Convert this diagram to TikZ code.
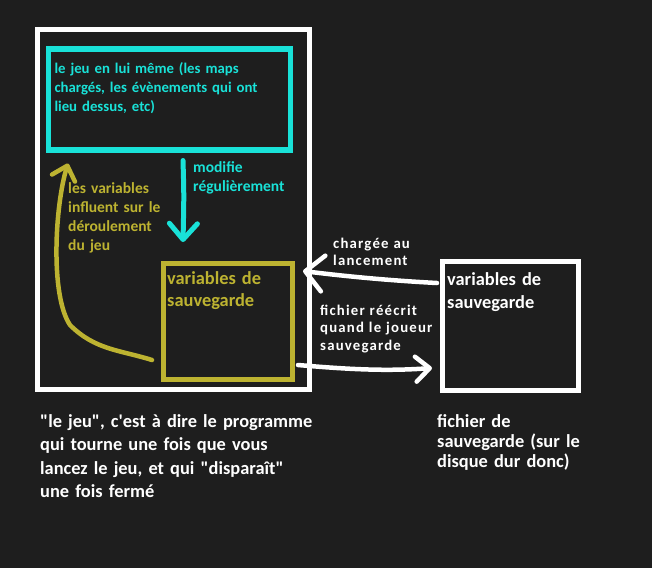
\documentclass[tikz,border=0pt]{standalone}
\usepackage{fontspec}
\setmainfont{Carlito}[Ligatures=TeXOff]
\newfontfamily\lblfont{Carlito}[LetterSpace=8]
\usetikzlibrary{arrows.meta,calc}
\definecolor{bg}{HTML}{1E1E1E}
\definecolor{cy}{HTML}{19E2D8}
\definecolor{ol}{HTML}{BDB331}
\begin{document}
\begin{tikzpicture}[x=1pt,y=-1pt,
  box/.style={draw=#1, line width=5pt, anchor=north west, inner sep=0pt},
  txt/.style={anchor=base west, inner sep=0pt, align=left, text width=320pt, font=\bfseries},
  small/.style={font=\bfseries\fontsize{15.5}{19}\selectfont},
  big/.style={font=\bfseries\fontsize{18.4}{#1}\selectfont},
  lbl/.style={text=white, font=\lblfont\bfseries\fontsize{14.8}{17.5}\selectfont},
  hand/.style={line width=4.5pt, line cap=round, line join=round},
  tipA/.style 2 args={-{Straight Barb[length=#1, width=#2, line cap=round, line join=round]}}
]
\fill[bg] (0,0) rectangle (652,568);
\useasboundingbox (0,0) rectangle (652,568);

% boxes
\node[box=white, minimum width=272.5pt, minimum height=360.5pt] (prog) at (34.5,26.5) {};
\node[box=cy, minimum width=242pt, minimum height=101pt, line width=5.5pt] (game) at (45.5,46) {};
\node[box=ol, minimum width=129pt, minimum height=116.5pt] (vars) at (160.5,260.5) {};
\node[box=white, minimum width=135.5pt, minimum height=128.5pt] (file) at (440,259) {};

% texts
\node[txt, text=cy, font=\bfseries\fontsize{14.8}{19}\selectfont] (tgame) at (54.3,73.3)
  {le jeu en lui même (les maps\\chargés, les évènements qui ont\\lieu dessus, etc)};
\node[txt, small, text=cy] (tmod) at (193,172)
  {modifie\\régulièrement};
\node[txt, small, text=ol] (tinf) at (68,193)
  {les variables\\influent sur le\\déroulement\\du jeu};
\node[txt, big=22.5, text=ol] (tvars) at (167,284)
  {variables de\\sauvegarde};
\node[txt, big=23, text=white] (tfile) at (447,285)
  {variables de\\sauvegarde};
\node[txt, lbl] (tload) at (333,248)
  {chargée au\\lancement};
\node[txt, lbl] (tsave) at (320,315)
  {fichier réécrit\\quand le joueur\\sauvegarde};
\node[txt, big=23.5, text=white] (tprog) at (40,427)
  {"le jeu", c'est à dire le programme\\qui tourne une fois que vous\\lancez le jeu, et qui "disparaît"\\une fois fermé};
\node[txt, big=20, text=white] (tdisk) at (437,427)
  {fichier de\\sauvegarde (sur le\\disque dur donc)};

% connector end points
\coordinate (modS) at ($(game.south west)+(137.5,8)$);   % (183,155)
\coordinate (modE) at ($(vars.north west)+(22.5,-18.5)$); % (183,242)
\coordinate (infS) at ($(vars.south west)+(-8.5,-22)$);   % (152,355)
\coordinate (infE) at ($(game.south west)+(22.5,11)$);    % (68,158)
\coordinate (ldS) at ($(file.north west)+(-3,24)$);       % (437,283)
\coordinate (ldE) at ($(vars.north east)+(8.5,10.5)$);    % (298,271)
\coordinate (svS) at ($(vars.south east)+(3.5,-17)$);     % (293,360)
\coordinate (svE) at ($(file.south west)+(-8,-24.5)$);    % (432,363)

% connectors
\draw[cy, hand, line width=5pt, tipA={16pt}{28pt}] (modS) .. controls ($(modS)+(1,35)$) .. (modE);
\draw[ol, hand, tipA={13pt}{24pt}] (infS) .. controls ($(infS)+(-32,-10)$) and ($(infS)+(-57,-10)$) .. ($(infS)+(-82,-35)$)
  .. controls ($(infS)+(-102,-65)$) and ($(infE)+(-13,42)$) .. (infE);
\draw[white, hand, tipA={18pt}{36pt}] (ldS) .. controls ($(ldS)+(-57,-3)$) and ($(ldE)+(32,4)$) .. (ldE);
\draw[white, hand, tipA={14pt}{25pt}] (svS) .. controls ($(svS)+(57,5)$) and ($(svE)+(-42,3)$) .. (svE);
\end{tikzpicture}
\end{document}
